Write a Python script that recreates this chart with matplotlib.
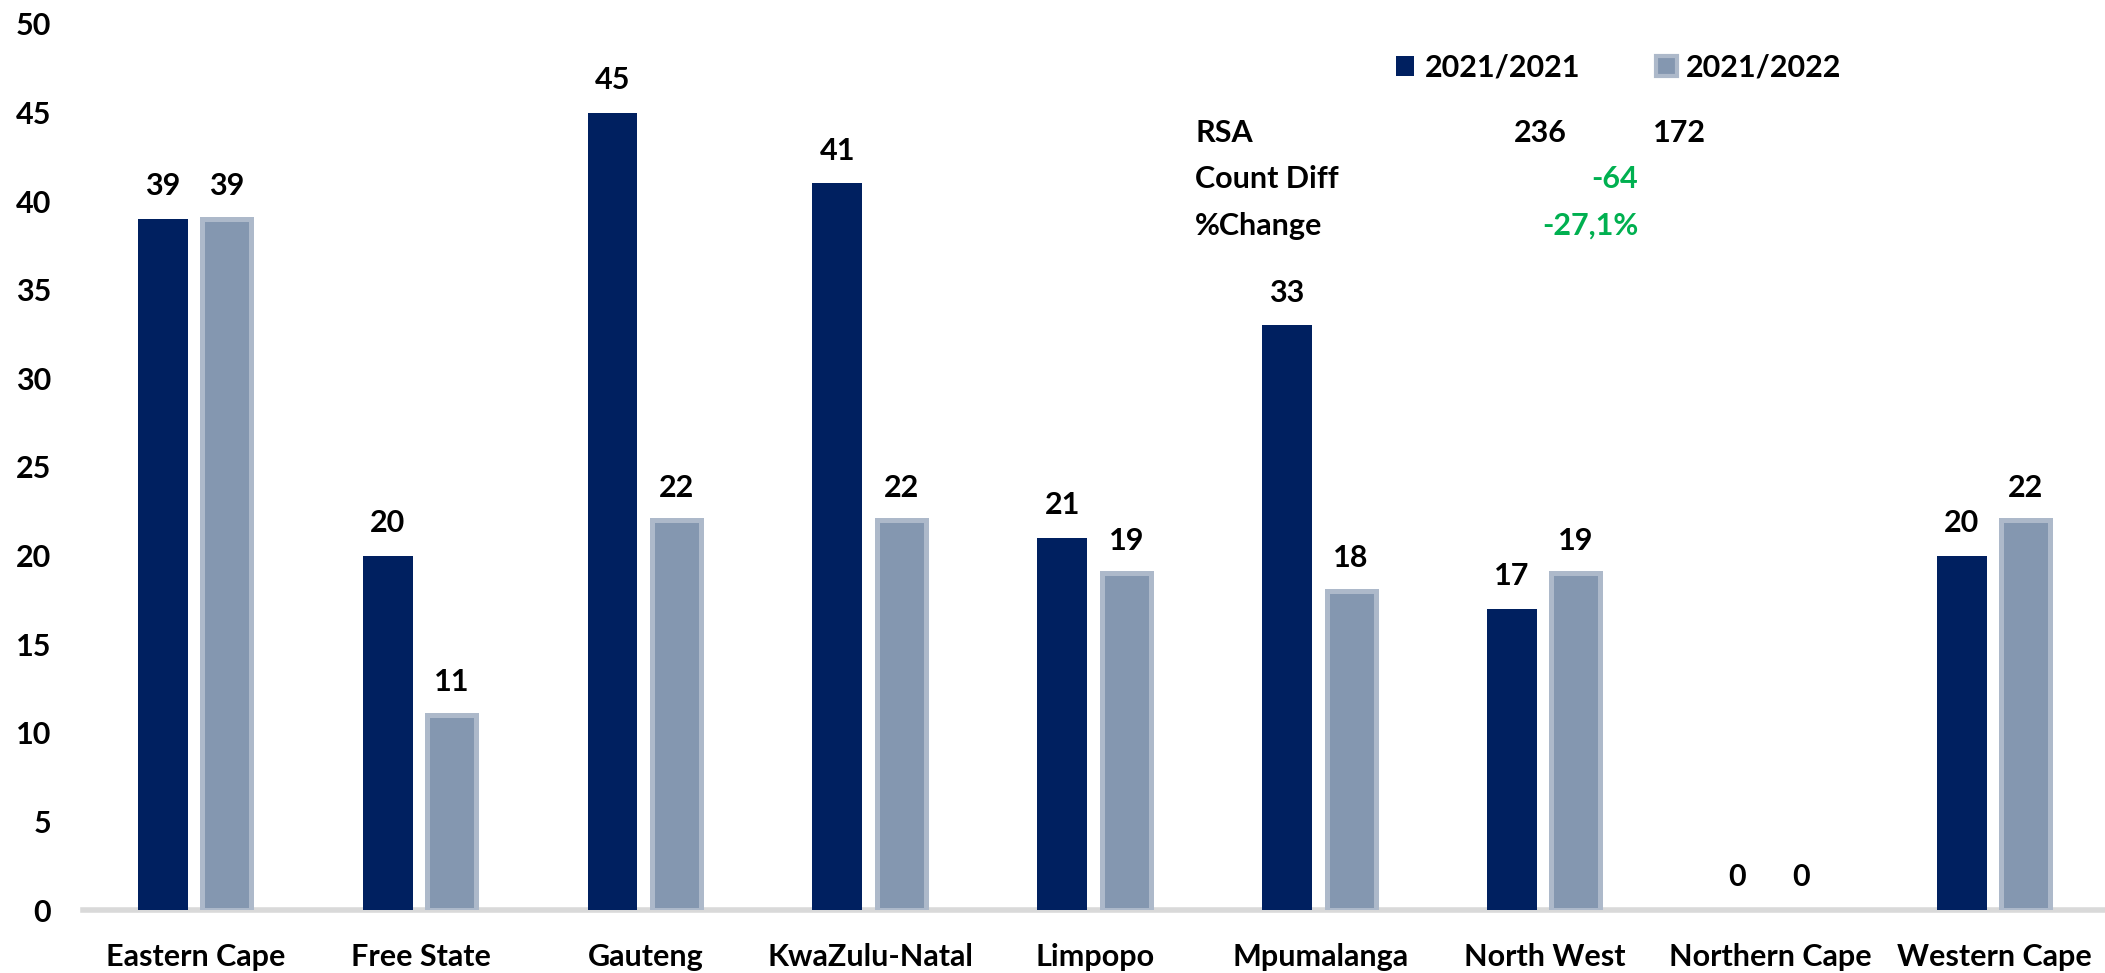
import matplotlib
matplotlib.use("Agg")
import matplotlib.pyplot as plt
import numpy as np
from matplotlib.patches import Rectangle

# Data
provinces = ['Eastern Cape', 'Free State', 'Gauteng', 'KwaZulu-Natal', 'Limpopo',
             'Mpumalanga', 'North West', 'Northern Cape', 'Western Cape']
vals_2021 = [39, 20, 45, 41, 21, 33, 17, 0, 20]
vals_2022 = [39, 11, 22, 22, 19, 18, 19, 0, 22]
series_names = ['2021/2021', '2021/2022']
rsa_totals = [236, 172]
count_diff = '-64'
pct_change = '-27,1%'

DARK = '#002060'
LIGHT = '#8497B0'
LIGHT_EDGE = '#ADB9CA'
GREEN = '#00B050'
FONT = 'Lato'
FS = 22

W, H = 2105, 973
plt.rcParams['font.family'] = [FONT, 'DejaVu Sans']
plt.rcParams['font.weight'] = 'bold'

fig = plt.figure(figsize=(W / 100, H / 100), dpi=100)
ax = fig.add_axes([83 / W, 1 - 910 / H, 1 - 83 / W, (910 - 24) / H])

x = np.arange(len(provinces))
b1 = ax.bar(x - 0.148, vals_2021, width=0.222, color=DARK, zorder=3)
# no outline on empty bars (Northern Cape)
edge_w = [3.6 if v > 0 else 0 for v in vals_2022]
b2 = ax.bar(x + 0.137, vals_2022, width=0.218, color=LIGHT, edgecolor=LIGHT_EDGE,
            linewidth=edge_w, zorder=3)

for bars, vals in ((b1, vals_2021), (b2, vals_2022)):
    for rect, v in zip(bars, vals):
        ax.annotate(str(v), (rect.get_x() + rect.get_width() / 2, v),
                    xytext=(0, 17), textcoords='offset points',
                    ha='center', va='baseline', fontsize=FS, fontweight='bold')

ax.set_xlim(-0.503, 8.49)
ax.set_ylim(0, 50)
ax.set_yticks(np.arange(0, 51, 5))
ax.set_xticks(x)
ax.set_xticklabels(provinces)
ax.tick_params(axis='both', length=0, labelsize=FS)
ax.tick_params(axis='y', pad=23)
ax.tick_params(axis='x', pad=24)
for lab in ax.get_xticklabels() + ax.get_yticklabels():
    lab.set_fontweight('bold')

for s in ('top', 'right', 'left'):
    ax.spines[s].set_visible(False)
ax.spines['bottom'].set_color('#D9D9D9')
ax.spines['bottom'].set_linewidth(4)


def fx(px):
    return px / W


def fy(py):
    return 1 - py / H


# legend drawn by hand to match the Excel layout
fig.add_artist(Rectangle((fx(1396), fy(76)), 18 / W, 20 / H, transform=fig.transFigure,
                         facecolor=DARK, edgecolor='none'))
fig.add_artist(Rectangle((fx(1656), fy(76)), 21 / W, 20 / H, transform=fig.transFigure,
                         facecolor=LIGHT, edgecolor=LIGHT_EDGE, linewidth=3))
fig.text(fx(1425), fy(77), series_names[0], ha='left', va='baseline', fontsize=FS, fontweight='bold')
fig.text(fx(1686), fy(77), series_names[1], ha='left', va='baseline', fontsize=FS, fontweight='bold')

# RSA summary table
fig.text(fx(1195), fy(142), 'RSA', ha='left', va='baseline', fontsize=FS, fontweight='bold')
fig.text(fx(1567), fy(142), str(rsa_totals[0]), ha='right', va='baseline', fontsize=FS, fontweight='bold')
fig.text(fx(1653), fy(142), str(rsa_totals[1]), ha='left', va='baseline', fontsize=FS, fontweight='bold')
fig.text(fx(1195), fy(188), 'Count Diff', ha='left', va='baseline', fontsize=FS, fontweight='bold')
fig.text(fx(1638), fy(188), count_diff, ha='right', va='baseline', fontsize=FS,
         fontweight='bold', color=GREEN)
fig.text(fx(1195), fy(235), '%Change', ha='left', va='baseline', fontsize=FS, fontweight='bold')
fig.text(fx(1638), fy(235), pct_change, ha='right', va='baseline', fontsize=FS,
         fontweight='bold', color=GREEN)

fig.savefig('out.png', dpi=100)
